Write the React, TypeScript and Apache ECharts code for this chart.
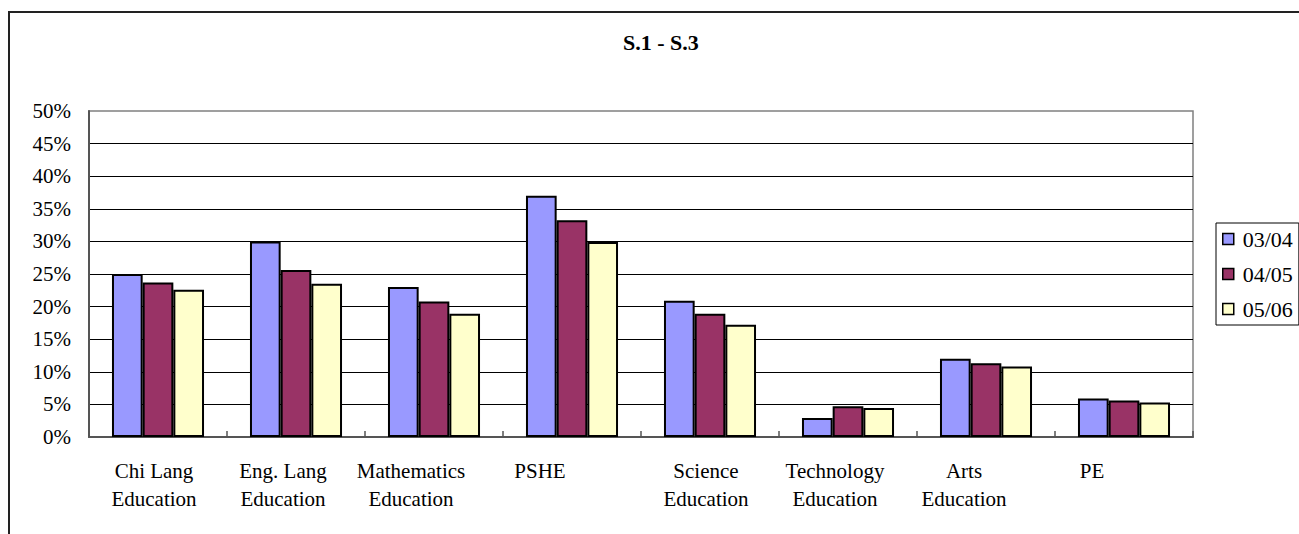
import React, { useEffect, useRef } from "react";
import * as echarts from "echarts";

const categories: string[] = [
  "Chi Lang\nEducation",
  "Eng. Lang\nEducation",
  "Mathematics\nEducation",
  "PSHE",
  "Science\nEducation",
  "Technology\nEducation",
  "Arts\nEducation",
  "PE",
];

const seriesNames: string[] = ["03/04", "04/05", "05/06"];

const values0304: number[] = [25.0, 30.0, 23.0, 37.0, 20.9, 2.9, 12.0, 5.9];
const values0405: number[] = [23.7, 25.6, 20.8, 33.25, 18.9, 4.7, 11.3, 5.6];
const values0506: number[] = [22.6, 23.5, 18.9, 29.9, 17.2, 4.45, 10.8, 5.3];

const yTicks = { min: 0, max: 50, interval: 5 };

const colors: string[] = ["#9999FF", "#993366", "#FFFFCC"];

// label horizontal shift (style only), as right padding in px
const labelShift: number[] = [8, 26, 46, 64, 8, 26, 44, 64];

const FONT = '"Liberation Serif", "Times New Roman", serif';

export default function App() {
  const ref = useRef<HTMLDivElement>(null);

  useEffect(() => {
    if (!ref.current) return;
    const chart = echarts.init(ref.current, null, { renderer: "svg" });

    const rich: Record<string, any> = {};
    labelShift.forEach((p, i) => {
      rich["c" + i] = {
        fontFamily: FONT,
        fontSize: 21,
        lineHeight: 28,
        color: "#000",
        padding: [0, p, 0, 0],
      };
    });

    const allValues = [values0304, values0405, values0506];

    chart.setOption({
      animation: false,
      backgroundColor: "#fff",
      textStyle: { fontFamily: FONT },
      title: {
        text: "S.1 - S.3",
        left: 623,
        top: 31,
        padding: 0,
        textStyle: {
          fontFamily: FONT,
          fontSize: 22,
          fontWeight: "bold",
          color: "#000",
        },
      },
      graphic: [
        {
          type: "rect",
          shape: { x: 9, y: 12, width: 1400, height: 700 },
          style: { fill: "none", stroke: "#222", lineWidth: 2 },
          silent: true,
          z: -1,
        },
      ],
      legend: {
        orient: "vertical",
        left: 1216,
        top: 223,
        padding: [5, 6, 5, 6],
        itemGap: 13,
        itemWidth: 11,
        itemHeight: 11,
        icon: "rect",
        borderColor: "#000",
        borderWidth: 1,
        data: seriesNames,
        itemStyle: { borderColor: "#000", borderWidth: 1.5 },
        textStyle: {
          fontFamily: FONT,
          fontSize: 22,
          lineHeight: 22,
          color: "#000",
          padding: [0, 0, 0, 4],
        },
      },
      grid: {
        left: 89,
        right: 106,
        top: 111,
        bottom: 97,
        show: true,
        borderColor: "#808080",
        borderWidth: 1.5,
        backgroundColor: "transparent",
        containLabel: false,
        outerBoundsMode: "none",
      },
      xAxis: {
        type: "category",
        data: categories,
        axisLine: { show: true, lineStyle: { color: "#555", width: 2 } },
        axisTick: {
          show: true,
          inside: true,
          length: 6,
          lineStyle: { color: "#555", width: 1.5 },
        },
        axisLabel: {
          margin: 20,
          interval: 0,
          fontFamily: FONT,
          fontSize: 21,
          lineHeight: 28,
          color: "#000",
          rich,
          formatter: (value: string, index: number) =>
            value
              .split("\n")
              .map((line) => "{c" + index + "|" + line + "}")
              .join("\n"),
        },
        splitLine: { show: false },
      },
      yAxis: {
        type: "value",
        min: yTicks.min,
        max: yTicks.max,
        interval: yTicks.interval,
        axisLine: { show: true, lineStyle: { color: "#555", width: 2 } },
        axisTick: { show: false },
        axisLabel: {
          margin: 18,
          fontFamily: FONT,
          fontSize: 21,
          color: "#000",
          formatter: "{value}%",
        },
        splitLine: {
          show: true,
          showMinLine: false,
          showMaxLine: false,
          lineStyle: { color: "#000", width: 1 },
        },
      },
      series: seriesNames.map((name, i) => ({
        name,
        type: "bar",
        data: allValues[i],
        barGap: "0%",
        barCategoryGap: "33.3%",
        itemStyle: {
          color: colors[i],
          borderColor: "#000",
          borderWidth: 2,
        },
        emphasis: { disabled: true },
      })),
    });

    return () => chart.dispose();
  }, []);

  return (
    <div
      ref={ref}
      style={{ position: "absolute", left: 0, top: 0, width: 1299, height: 534 }}
    />
  );
}
